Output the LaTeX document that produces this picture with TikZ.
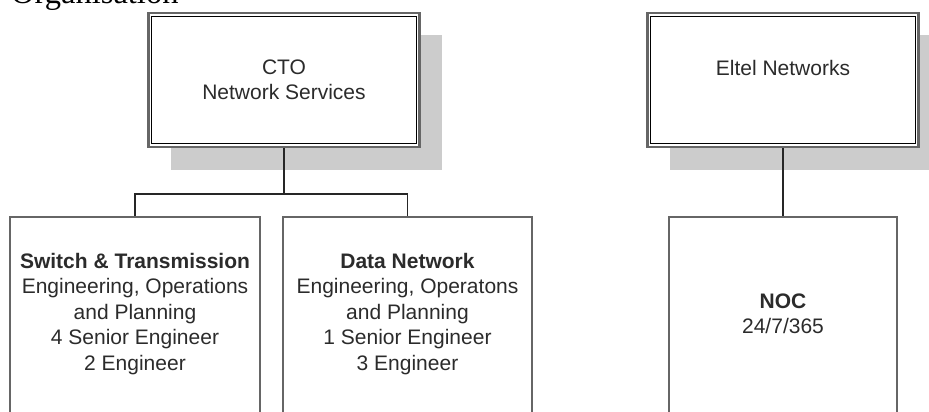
\documentclass[tikz,border=0pt]{standalone}
\usepackage{fontspec}
\setsansfont{Liberation Sans}
\newfontfamily\titlefont{Liberation Serif}
\usetikzlibrary{shadows,positioning}
\definecolor{orgline}{HTML}{666666}
\definecolor{orgshadow}{HTML}{CCCCCC}
\definecolor{orgtext}{HTML}{2B2B2B}

\begin{document}
\begin{tikzpicture}[
  x=1pt, y=-1pt,
  headbox/.style={draw=orgline, line width=2.5pt, fill=white,
                  minimum width=271pt, minimum height=134pt,
                  drop shadow={shadow xshift=22pt, shadow yshift=-22.5pt,
                               fill=orgshadow, opacity=1},
                  font=\sffamily\fontsize{21}{25}\selectfont, align=center,
                  text=orgtext},
  headinner/.style={draw=black, line width=1.4pt},
  unitbox/.style={draw=orgline, line width=2pt, minimum height=230pt,
                  anchor=north},
  unittext/.style={font=\sffamily\fontsize{21}{25.5}\selectfont,
                   align=center, text=orgtext},
  link/.style={draw=black!85, line width=1.6pt},
]
  \useasboundingbox (0,0) rectangle (929,412);

  %% Heading, only its lower edge shows
  \node[font=\titlefont\fontsize{32.5}{38}\selectfont, anchor=base west,
        inner sep=0pt] (title) at (11,4) {Organisation};

  %% Top level
  \node[headbox] (cto) at (284,80) {CTO\\Network Services};
  \node[headbox] (eltel) at (783,80) {Eltel Networks\\\mbox{}};

  \draw[headinner] ([shift={(4.5,4.5)}]cto.north west)
    rectangle ([shift={(-4.5,-4.5)}]cto.south east);
  \draw[headinner] ([shift={(4.5,4.5)}]eltel.north west)
    rectangle ([shift={(-4.5,-4.5)}]eltel.south east);

  %% Units (boxes run off the bottom)
  \node[unitbox, minimum width=250pt] (sw) at (135,216) {};
  \node[unitbox, minimum width=249pt] (dn) at (407.5,216) {};
  \node[unitbox, minimum width=228pt] (noc) at (783,216) {};

  \node[unittext] (swtext) at (135,314)
    {\textbf{Switch \& Transmission}\\Engineering, Operations\\and Planning\\
     4 Senior Engineer\\2 Engineer};
  \node[unittext] (dntext) at (407.5,314)
    {\textbf{Data Network}\\Engineering, Operatons\\and Planning\\
     1 Senior Engineer\\3 Engineer};
  \node[unittext] (noctext) at (783,314) {\textbf{NOC}\\24/7/365};

  %% Reporting lines
  \draw[link] (cto.south) -- ++(0,46) coordinate (bus) -| (sw.north);
  \draw[link] (bus) -| (dn.north);
  \draw[link] (eltel.south) -- (noc.north);

\end{tikzpicture}
\end{document}
